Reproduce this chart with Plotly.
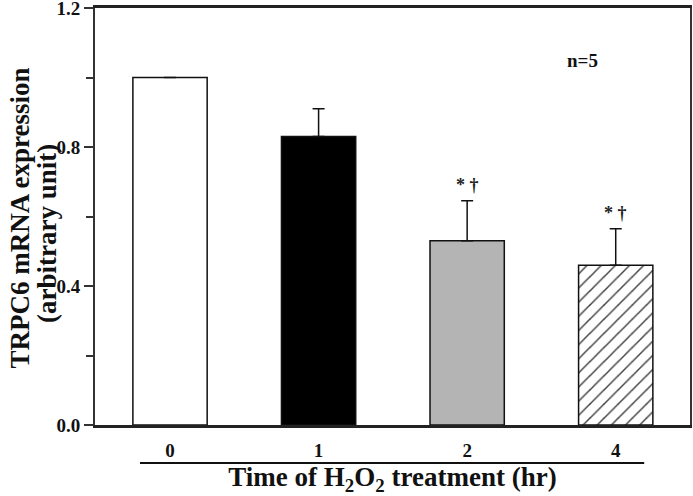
import plotly.graph_objects as go

categories = ["0", "1", "2", "4"]
means = [1.0, 0.83, 0.53, 0.46]
errors = [0.0, 0.08, 0.115, 0.105]
sig_labels = ["", "", "* †", "* †"]
fill_colors = ["white", "black", "#b4b4b4", "white"]
patterns = ["", "", "", "/"]
y_title_lines = ["TRPC6 mRNA expression", "(arbitrary unit)"]

FONT = "Liberation Serif"
AX = "#333333"

fig = go.Figure()
fig.add_trace(go.Bar(
    x=list(range(len(categories))),
    y=means,
    width=0.5,
    marker=dict(
        color=fill_colors,
        line=dict(color="#111", width=1.5),
        pattern=dict(shape=patterns, fgcolor="#111", bgcolor="white",
                     size=10, solidity=0.15, fgopacity=1),
    ),
    error_y=dict(type="data", symmetric=False, array=errors,
                 arrayminus=[0] * len(errors), color="#111",
                 thickness=1.5, width=6),
    showlegend=False,
))

for i, lab in enumerate(sig_labels):
    if lab:
        fig.add_annotation(x=i, y=means[i] + errors[i], text="<b>" + lab + "</b>",
                           showarrow=False, yanchor="bottom", yshift=4,
                           font=dict(family=FONT, size=18, color="#222"))

fig.add_annotation(xref="paper", yref="paper", x=0.79, y=0.875, text="<b>n=5</b>",
                   showarrow=False, xanchor="left", yanchor="middle",
                   font=dict(family=FONT, size=19, color="#111"))

# two-line y-axis title (rotated)
for k, (line, xs, yc) in enumerate(zip(y_title_lines, [-75, -48], [0.495, 0.458])):
    fig.add_annotation(xref="paper", yref="paper", x=0, y=yc, xshift=xs,
                       text="<b>" + line + "</b>", textangle=-90, showarrow=False,
                       xanchor="center", yanchor="middle",
                       font=dict(family=FONT, size=27, color="#111"))

# underline under tick labels
fig.add_shape(type="line", xref="paper", yref="paper",
              x0=0.0756, x1=0.923, y0=-0.091, y1=-0.091,
              line=dict(color="#111", width=2))

fig.update_layout(
    width=693, height=496,
    margin=dict(l=95, r=3, t=8, b=71),
    plot_bgcolor="white", paper_bgcolor="white",
    bargap=0.5,
    font=dict(family=FONT, color="#111"),
    xaxis=dict(
        tickmode="array", tickvals=list(range(len(categories))), ticktext=categories,
        range=[-0.505, 3.50], showline=True, linecolor="#222", linewidth=2.5, mirror=True,
        ticks="", showgrid=False, zeroline=False, automargin=False,
        ticklabelstandoff=6,
        tickfont=dict(family=FONT, size=19, weight="bold", color="#111"),
        title=dict(text="Time of H<sub>2</sub>O<sub>2</sub> treatment (hr)",
                   font=dict(family=FONT, size=27, weight="bold", color="#111"),
                   standoff=30),
    ),
    yaxis=dict(
        range=[0, 1.2], tickvals=[0, 0.4, 0.8, 1.2],
        ticktext=["0.0", "0.4", "0.8", "1.2"],
        showline=True, linecolor=AX, linewidth=2, mirror=True, ticks="outside", ticklen=9,
        tickwidth=1.5, tickcolor=AX, showgrid=False, zeroline=False, automargin=False,
        ticklabeloverflow="allow",
        minor=dict(dtick=0.2, ticks="outside", ticklen=7, tickwidth=1.5,
                   tickcolor=AX, showgrid=False),
        tickfont=dict(family=FONT, size=19, weight="bold", color="#111"),
    ),
)

fig.write_html("out.html", config={"displayModeBar": False},
               post_script="document.body.style.margin='0px';")
